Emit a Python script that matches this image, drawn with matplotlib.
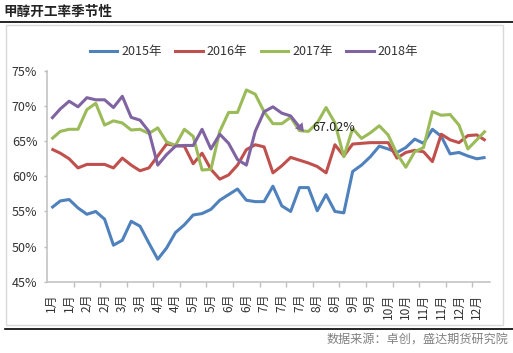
import math
import matplotlib
matplotlib.use('Agg')
import matplotlib.pyplot as plt
from matplotlib.lines import Line2D
from matplotlib.patches import Rectangle
from matplotlib.ticker import FixedLocator, FixedFormatter

plt.rcParams['font.family'] = ['Noto Sans CJK SC', 'DejaVu Sans']

title = '甲醇开工率季节性'
source = '数据来源：卓创，盛达期货研究院'
series_names = ['2015年', '2016年', '2017年', '2018年']
colors = ['#4F81BD', '#C0504D', '#9BBB59', '#8064A2']

tick_labels = ['1月', '1月', '2月', '2月', '3月', '3月', '4月', '4月', '5月', '5月',
               '6月', '6月', '7月', '7月', '7月', '8月', '8月', '9月', '9月',
               '10月', '10月', '11月', '11月', '12月', '12月']

s2015 = [55.5, 56.5, 56.7, 55.5, 54.6, 55.0, 53.9, 50.2, 50.9, 53.6,
         52.9, 50.5, 48.2, 49.8, 52.0, 53.1, 54.5, 54.7, 55.3, 56.6,
         57.4, 58.2, 56.6, 56.4, 56.4, 58.6, 55.8, 55.0, 58.4, 58.4,
         55.1, 57.4, 55.0, 54.8, 60.7, 61.6, 62.8, 64.3, 63.9, 63.4,
         64.1, 65.3, 64.7, 66.7, 65.7, 63.2, 63.4, 62.9, 62.5, 62.7]
s2016 = [63.9, 63.3, 62.5, 61.2, 61.7, 61.7, 61.7, 61.2, 62.6, 61.6,
         60.8, 61.2, 62.9, 64.6, 64.4, 64.3, 61.8, 63.3, 61.0, 59.6,
         60.2, 61.6, 63.8, 64.5, 64.2, 60.5, 61.5, 62.7, 62.3, 61.9,
         61.4, 60.5, 64.5, 62.9, 64.6, 64.7, 64.8, 64.8, 64.8, 62.6,
         63.4, 63.7, 63.5, 62.1, 66.0, 65.2, 64.8, 65.8, 65.9, 65.1]
s2017 = [65.3, 66.4, 66.7, 66.7, 69.5, 70.4, 67.3, 67.9, 67.6, 66.6,
         66.7, 66.1, 66.9, 64.9, 64.4, 66.7, 65.7, 60.9, 61.0, 66.4,
         69.1, 69.1, 72.3, 71.7, 69.2, 67.5, 67.5, 68.4, 66.5, 66.4,
         67.6, 69.8, 67.6, 62.8, 66.8, 65.4, 66.2, 67.2, 65.9, 63.2,
         61.3, 63.5, 64.1, 69.2, 68.7, 68.8, 67.3, 63.9, 65.2, 66.5]
s2018 = [68.2, 69.6, 70.7, 69.9, 71.2, 70.9, 70.9, 69.8, 71.4, 68.4,
         68.0, 66.4, 61.6, 63.1, 64.3, 64.4, 64.4, 66.7, 63.9, 66.0,
         64.7, 62.4, 61.6, 66.4, 69.2, 69.9, 69.0, 68.6, 67.02]
series = [s2015, s2016, s2017, s2018]

W, H = 513, 353
fig = plt.figure(figsize=(W / 100, H / 100), dpi=100)

# frame decorations
fig.text(3 / W, 1 - 12 / H, title, fontsize=9.8, fontweight='bold',
         color='#222222', ha='left', va='center')
fig.add_artist(Line2D([0, 1], [1 - 22.3 / H, 1 - 22.3 / H], color='black',
                      lw=1.2, transform=fig.transFigure))
fig.add_artist(Rectangle((5.7 / W, 1 - 325 / H), (503 - 5.7) / W, (325 - 24.5) / H,
                         transform=fig.transFigure, fill=False,
                         edgecolor='#d9d9d9', lw=1.0))
fig.add_artist(Line2D([5 / W, 1], [1 - 329.3 / H, 1 - 329.3 / H], color='black',
                      lw=1.2, transform=fig.transFigure))
fig.text(508 / W, 1 - 340 / H, source, fontsize=8.7, color='#808080',
         ha='right', va='center', style='italic')

ax = fig.add_axes([47 / W, 1 - 281.7 / H, 443 / W, 210.7 / H])
n = len(s2015)
ax.set_xlim(-0.5, n - 0.5)
ax.set_ylim(45, 75)

for name, vals, c in zip(series_names, series, colors):
    ax.plot(range(len(vals)), vals, color=c, lw=2.2, solid_joinstyle='round',
            solid_capstyle='butt', label=name)

# line-end arrowhead on the 2018 series, oriented along its last segment
k = len(s2018) - 1
p0 = ax.transData.transform((k - 1, s2018[k - 1]))
p1 = ax.transData.transform((k, s2018[k]))
ang = math.degrees(math.atan2(p1[1] - p0[1], p1[0] - p0[0]))
ax.plot([k], [s2018[k]], linestyle='none', marker=(3, 0, ang - 90),
        markersize=8, color=colors[3], markeredgewidth=0)
ax.annotate(f'{s2018[k]:.2f}%', xy=(k, s2018[k]), xytext=(9.5, 0),
            textcoords='offset points', ha='left', va='center', fontsize=9,
            color='#222222')

for s in ['top', 'right']:
    ax.spines[s].set_visible(False)
for s in ['left', 'bottom']:
    ax.spines[s].set_color('#bfbfbf')
    ax.spines[s].set_linewidth(1.1)

yt = [45, 50, 55, 60, 65, 70, 75]
ax.set_yticks(yt)
ax.set_yticklabels([f'{v}%' for v in yt])
ax.tick_params(axis='y', length=2.5, color='#bfbfbf', width=1.0, pad=4.5,
               labelsize=9, labelcolor='#333333')

label_pos = list(range(0, n, 2))
ax.xaxis.set_major_locator(FixedLocator(label_pos))
ax.xaxis.set_major_formatter(FixedFormatter(tick_labels))
ax.xaxis.set_minor_locator(FixedLocator([b - 0.5 for b in range(3, n, 3)]))
ax.tick_params(axis='x', which='major', length=0, pad=8.5, labelsize=8.6,
               labelcolor='#333333', labelrotation=90)
ax.tick_params(axis='x', which='minor', length=3.6, color='#bfbfbf', width=1.0)
for lab in ax.get_xticklabels():
    lab.set_va('top')
    lab.set_ha('center')

handles = [Line2D([], [], color=c, lw=2.2) for c in colors]
fig.legend(handles, series_names, loc='center', bbox_to_anchor=(254 / W, 1 - 52 / H),
           ncol=4, frameon=False, fontsize=9, handlelength=2.2, handletextpad=0.3,
           columnspacing=1.1, labelcolor='#333333')

fig.savefig('out.png', dpi=100)
